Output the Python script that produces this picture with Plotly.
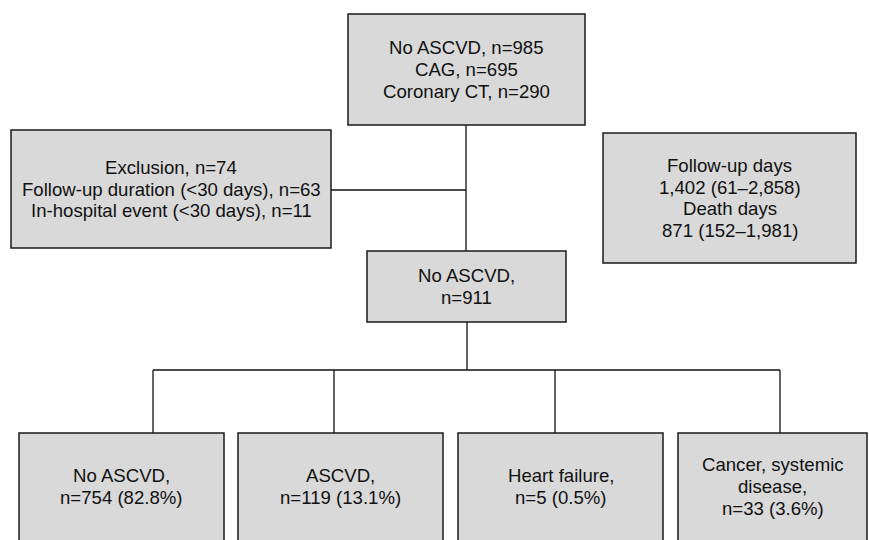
import plotly.graph_objects as go

# ---- data (texts of the flowchart boxes) ----
top_lines = ["No ASCVD, n=985", "CAG, n=695", "Coronary CT, n=290"]
excl_lines = ["Exclusion, n=74", "Follow-up duration (<30 days), n=63",
              "In-hospital event (<30 days), n=11"]
follow_lines = ["Follow-up days", "1,402 (61\u20132,858)", "Death days",
                "871 (152\u20131,981)"]
mid_lines = ["No ASCVD,", "n=911"]
bottom_groups = [
    ["No ASCVD,", "n=754 (82.8%)"],
    ["ASCVD,", "n=119 (13.1%)"],
    ["Heart failure,", "n=5 (0.5%)"],
    ["Cancer, systemic", "disease,", "n=33 (3.6%)"],
]

# ---- layout geometry (pixels, y downward) ----
W, H = 869, 540
FILL = "#d9d9d9"
FONT = dict(family="Liberation Sans, Arial, sans-serif", size=18.6, color="#111111")
LINE_H = 21.6

boxes = {
    "top": (348, 585, 14, 125),
    "excl": (11, 331, 130, 248),
    "follow": (603, 856, 133, 263),
    "mid": (367, 566, 251, 322),
}
bottom_boxes = [(19, 224), (238, 443), (458, 663), (678, 867)]
bottom_y = (433, 548)
drops_x = [153, 334, 555, 780]

fig = go.Figure()
shapes = []
annotations = []


def add_box(x0, x1, y0, y1):
    shapes.append(dict(type="rect", xref="x", yref="y", x0=x0, x1=x1, y0=y0, y1=y1,
                       fillcolor=FILL, line=dict(color="#1a1a1a", width=1.5), layer="below"))


def add_line(x0, y0, x1, y1):
    shapes.append(dict(type="line", xref="x", yref="y", x0=x0, x1=x1, y0=y0, y1=y1,
                       line=dict(color="#111111", width=1.3), layer="below"))


def add_text(lines, cx, cy):
    n = len(lines)
    for i, t in enumerate(lines):
        annotations.append(dict(x=cx, y=cy + (i - (n - 1) / 2) * LINE_H, xref="x", yref="y",
                                text=t, showarrow=False, font=FONT,
                                xanchor="center", yanchor="middle"))


# connectors
add_line(466, 125, 466, 251)
add_line(331, 190, 466, 190)
add_line(467, 322, 467, 370)
add_line(drops_x[0], 370, drops_x[-1], 370)
for dx in drops_x:
    add_line(dx, 370, dx, bottom_y[0])

# boxes with texts
texts = {"top": top_lines, "excl": excl_lines, "follow": follow_lines, "mid": mid_lines}
for k, (x0, x1, y0, y1) in boxes.items():
    add_box(x0, x1, y0, y1)
    add_text(texts[k], (x0 + x1) / 2, (y0 + y1) / 2)

for (x0, x1), lines in zip(bottom_boxes, bottom_groups):
    add_box(x0, x1, bottom_y[0], bottom_y[1])
    add_text(lines, (x0 + x1) / 2, 486.5)

fig.update_layout(
    width=W, height=H,
    margin=dict(l=0, r=0, t=0, b=0),
    paper_bgcolor="white", plot_bgcolor="white",
    xaxis=dict(range=[0, W], visible=False, fixedrange=True),
    yaxis=dict(range=[H, 0], visible=False, fixedrange=True),
    shapes=shapes, annotations=annotations, showlegend=False,
)

fig.write_html("out.html", config={"displayModeBar": False},
               post_script="document.body.style.margin='0px';")
